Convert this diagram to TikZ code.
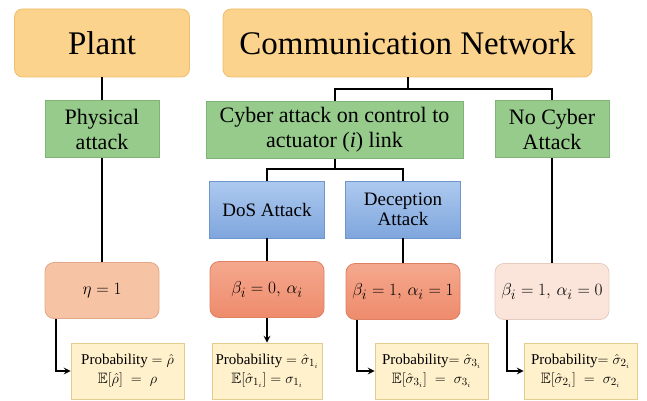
\documentclass[tikz,border=0pt]{standalone}
\usepackage{amsmath}
\usepackage{amssymb}
\usepackage{fontspec}
\newfontfamily\diagfont{Liberation Serif}
\usetikzlibrary{positioning}

\definecolor{headfill}{HTML}{FCD38C}
\definecolor{headline}{HTML}{EDBE6B}
\definecolor{greenfill}{HTML}{97CB8C}
\definecolor{greenline}{HTML}{80B377}
\definecolor{bluetop}{HTML}{ADC9EF}
\definecolor{bluebot}{HTML}{7FA6DD}
\definecolor{blueline}{HTML}{6E95CC}
\definecolor{etafill}{HTML}{F6C3A4}
\definecolor{etaline}{HTML}{E3A888}
\definecolor{hottop}{HTML}{F5A88E}
\definecolor{hotbot}{HTML}{EE8B6C}
\definecolor{hotline}{HTML}{DE8062}
\definecolor{calmfill}{HTML}{FBE5DA}
\definecolor{calmline}{HTML}{E6CCBF}
\definecolor{probfill}{HTML}{FFF1CC}
\definecolor{probline}{HTML}{E2CD8E}

\begin{document}
\begin{tikzpicture}[
    x=1pt, y=-1pt,
    every node/.style={
        align=center,
        inner sep=2pt
    },
    head/.style={draw=headline, fill=headfill, line width=0.8pt, rounded corners=8pt,
        minimum height=68pt, font=\diagfont\fontsize{33}{36}\selectfont},
    attack/.style={draw=greenline, fill=greenfill, line width=0.8pt,
        minimum height=57pt, font=\diagfont\fontsize{22}{25}\selectfont},
    kind/.style={draw=blueline, top color=bluetop, bottom color=bluebot, line width=0.8pt,
        minimum width=115pt, minimum height=57pt, font=\diagfont\fontsize{19}{20}\selectfont},
    state/.style={line width=0.8pt, rounded corners=9pt,
        minimum width=114pt, minimum height=56pt, font=\diagfont\fontsize{19}{21}\selectfont},
    prob/.style={draw=probline, fill=probfill, line width=0.8pt,
        minimum width=113pt, minimum height=56pt, font=\diagfont\fontsize{15}{19}\selectfont},
    link/.style={line width=2pt},
    arrow/.style={->, >=stealth, line width=2pt}
]
\useasboundingbox (0,0) rectangle (647,401);

% ======================
% Top level
% ======================
\node[head, minimum width=175pt] (plant) at (102,43) {Plant};
\node[head, minimum width=369pt] (comm) at (407.5,43) {Communication Network};

% ======================
% Attack types
% ======================
\node[attack, minimum width=114pt] (phys) at (102,129) {Physical\\attack};
\node[attack, minimum width=257pt] (cyber) at (334.5,130) {Cyber attack on control to\\actuator (\textit{i}) link};
\node[attack, minimum width=114pt] (nocyber) at (552,129) {No Cyber\\Attack};

\node[kind] (dos) at (267,209.5) {DoS Attack};
\node[kind] (decep) at (403,209.5) {Deception\\Attack};

% ======================
% Resulting states
% ======================
\node[state, draw=etaline, fill=etafill] (eta) at (102,290.5) {$\eta = 1$};
\node[state, draw=hotline, top color=hottop, bottom color=hotbot] (dos_state) at (267,289.5) {$\beta_i = 0,\, \alpha_i$};
\node[state, draw=hotline, top color=hottop, bottom color=hotbot] (decep_state) at (403,291.5) {$\beta_i = 1,\, \alpha_i = 1$};
\node[state, draw=calmline, fill=calmfill] (none_state) at (552,291.5) {$\beta_i = 1,\, \alpha_i = 0$};

% ======================
% Probabilities
% ======================
\node[prob] (phys_prob) at (127.5,371) {Probability $= \hat{\rho}$\\$\mathbb{E}[\hat{\rho}] \;=\; \rho$};
\node[prob, minimum width=110pt] (dos_prob) at (267,371) {Probability $= \hat{\sigma}_{1_i}$\\$\mathbb{E}[\hat{\sigma}_{1_i}] = \sigma_{1_i}$};
\node[prob] (decep_prob) at (431.5,371) {Probability$=\hat{\sigma}_{3_i}$\\$\mathbb{E}[\hat{\sigma}_{3_i}] \;=\; \sigma_{3_i}$};
\node[prob] (none_prob) at (580.5,371) {Probability$=\hat{\sigma}_{2_i}$\\$\mathbb{E}[\hat{\sigma}_{2_i}] \;=\; \sigma_{2_i}$};

% ======================
% Connectors
% ======================
\draw[link] (plant) -- (phys);
\draw[link] (phys) -- (eta);

\draw[link] (comm.south) -- ++(0,12) -| (cyber.north);
\draw[link] (comm.south) ++(0,12) -| (nocyber.north);

\draw[link] (cyber.south) -- ++(0,10) -| (dos.north);
\draw[link] (cyber.south) ++(0,10) -| (decep.north);

\draw[link] (dos) -- (dos_state);
\draw[link] (decep) -- (decep_state);
\draw[link] (nocyber) -- (none_state);

\draw[arrow] ([xshift=11pt]eta.south west) |- (phys_prob.west);
\draw[arrow] (dos_state) -- (dos_prob);
\draw[arrow] ([xshift=11pt]decep_state.south west) |- (decep_prob.west);
\draw[arrow] ([xshift=12pt]none_state.south west) |- (none_prob.west);

\end{tikzpicture}
\end{document}
